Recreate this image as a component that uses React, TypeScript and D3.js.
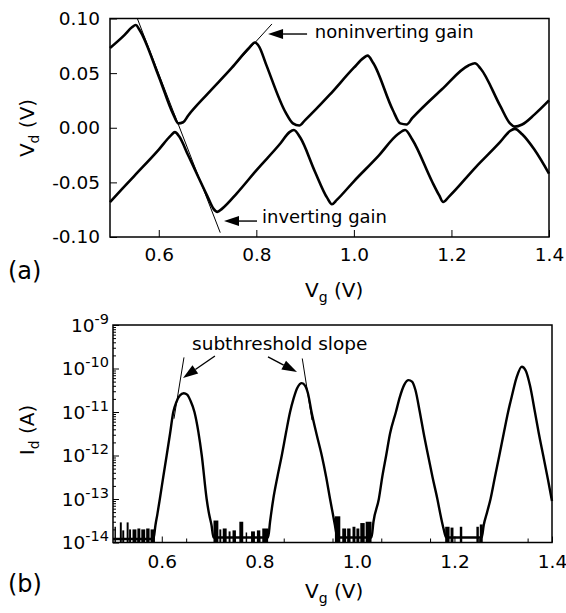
import React, { useEffect, useRef } from "react";
import * as d3 from "d3";

const FONT = "DejaVu Sans, Liberation Sans, Arial, sans-serif";

// shared gate voltage axis
const vgDomain = [0.5, 1.4];
const vgTicks = [0.6, 0.8, 1.0, 1.2, 1.4];
const vgTickLabels = ["0.6", "0.8", "1.0", "1.2", "1.4"];
const vgMinorTicks = [0.55, 0.65, 0.75, 0.85, 0.95, 1.05, 1.15, 1.25, 1.35];

// panel (a): drain voltage
const vdTicks = [-0.1, -0.05, 0, 0.05, 0.1];
const vdTickLabels = ["-0.10", "-0.05", "0.00", "0.05", "0.10"];

const vdUpper: [number, number][] = [
  [0.5, 0.073], [0.53, 0.085], [0.545, 0.092], [0.553, 0.094], [0.56, 0.09],
  [0.6, 0.047], [0.63, 0.012], [0.64, 0.004], [0.65, 0.005], [0.66, 0.011],
  [0.7, 0.031], [0.75, 0.055], [0.785, 0.073], [0.797, 0.078], [0.806, 0.074],
  [0.82, 0.058], [0.86, 0.014], [0.875, 0.004], [0.888, 0.002], [0.9, 0.007],
  [0.95, 0.03], [1.0, 0.055], [1.02, 0.064], [1.028, 0.066], [1.04, 0.059],
  [1.08, 0.016], [1.095, 0.004], [1.108, 0.003], [1.12, 0.009], [1.18, 0.035],
  [1.235, 0.057], [1.248, 0.059], [1.26, 0.054], [1.3, 0.02], [1.32, 0.004],
  [1.33, 0.001], [1.345, 0.003], [1.37, 0.012], [1.4, 0.025],
];

const vdLower: [number, number][] = [
  [0.5, -0.068], [0.55, -0.044], [0.6, -0.02], [0.625, -0.007], [0.633, -0.004],
  [0.642, -0.008], [0.66, -0.025], [0.7, -0.063], [0.712, -0.074], [0.72, -0.077],
  [0.73, -0.074], [0.76, -0.06], [0.8, -0.039], [0.85, -0.014], [0.868, -0.004],
  [0.877, -0.002], [0.89, -0.009], [0.92, -0.04], [0.945, -0.064], [0.955, -0.07],
  [0.965, -0.066], [1.0, -0.049], [1.05, -0.026], [1.09, -0.006], [1.105, -0.002],
  [1.12, -0.011], [1.16, -0.049], [1.175, -0.062], [1.183, -0.068], [1.195, -0.063],
  [1.25, -0.036], [1.3, -0.013], [1.32, -0.003], [1.33, -0.001], [1.345, -0.006],
  [1.37, -0.02], [1.4, -0.042],
];

const invertingTangent: [number, number][] = [[0.556, 0.1], [0.726, -0.096]];
const noninvertingTangent: [number, number][] = [[0.72, 0.04], [0.832, 0.095]];
const noninvArrow: [number, number][] = [[0.904, 0.0858], [0.824, 0.0858]];
const invArrow: [number, number][] = [[0.8014, -0.0854], [0.7337, -0.0854]];
const noninvLabelAt: [number, number] = [0.92, 0.082];
const invLabelAt: [number, number] = [0.8116, -0.0872];

// panel (b): drain current
const idExponents = [-14, -13, -12, -11, -10, -9];

const idTrace: [number, number][] = [
  [0.5, 1.2e-14], [0.583, 1.2e-14],
  [0.587, 2.5e-14], [0.591, 4.5e-14], [0.596, 1e-13], [0.603, 3.2e-13], [0.61, 1e-12],
  [0.617, 3.2e-12], [0.6236, 1e-11], [0.63, 1.7e-11], [0.637, 2.4e-11], [0.645, 2.7e-11],
  [0.652, 2.5e-11], [0.659, 1.8e-11], [0.667, 1e-11], [0.675, 3.5e-12], [0.682, 1e-12],
  [0.692, 1e-13], [0.697, 4.5e-14], [0.702, 2.5e-14], [0.706, 1.3e-14],
  [0.818, 1.3e-14], [0.822, 3e-14], [0.8286, 1e-13], [0.837, 3.2e-13], [0.846, 1e-12],
  [0.855, 3.5e-12], [0.863, 1e-11], [0.87, 2e-11], [0.878, 3.6e-11], [0.887, 4.6e-11],
  [0.894, 4e-11], [0.9, 2.6e-11], [0.907, 1e-11], [0.917, 3.2e-12], [0.928, 1e-12],
  [0.937, 3.2e-13], [0.945, 1e-13], [0.95, 5e-14], [0.955, 2.5e-14], [0.96, 1.3e-14],
  [1.03, 1.3e-14], [1.034, 3e-14], [1.045, 1e-13], [1.052, 3.2e-13], [1.06, 1e-12],
  [1.068, 3.2e-12], [1.08, 1e-11], [1.088, 2.2e-11], [1.097, 4.2e-11], [1.106, 5.4e-11],
  [1.113, 5e-11], [1.12, 3.2e-11], [1.129, 1e-11], [1.137, 3.2e-12], [1.146, 1e-12],
  [1.155, 3.2e-13], [1.165, 1e-13], [1.172, 4e-14], [1.178, 2e-14], [1.183, 1.3e-14],
  [1.256, 1.3e-14], [1.26, 2.5e-14], [1.267, 5e-14], [1.274, 1e-13], [1.283, 3.2e-13],
  [1.292, 1e-12], [1.301, 3.2e-12], [1.31, 1e-11], [1.318, 2.4e-11], [1.327, 6e-11],
  [1.338, 1.1e-10], [1.346, 9e-11], [1.355, 4e-11], [1.365, 1e-11], [1.373, 3.2e-12],
  [1.382, 1e-12], [1.392, 2.7e-13], [1.4, 9e-14],
];

// noise bursts at the floor: [start Vg, end Vg, top current]
const noiseBursts: [number, number, number][] = [
  [0.503, 0.506, 2.3e-14], [0.514, 0.518, 2.9e-14], [0.519, 0.523, 1.9e-14],
  [0.528, 0.532, 2.9e-14], [0.533, 0.537, 2e-14], [0.54, 0.548, 2e-14],
  [0.55, 0.556, 2.1e-14], [0.558, 0.566, 2e-14], [0.568, 0.575, 2.1e-14],
  [0.577, 0.586, 2e-14],
  [0.706, 0.716, 3.2e-14], [0.718, 0.722, 2e-14], [0.725, 0.733, 2.1e-14],
  [0.737, 0.741, 1.8e-14], [0.745, 0.752, 1.9e-14], [0.759, 0.767, 3e-14],
  [0.772, 0.775, 1.7e-14], [0.783, 0.791, 1.8e-14], [0.795, 0.802, 1.9e-14],
  [0.806, 0.818, 2.1e-14],
  [0.955, 0.966, 4e-14], [0.97, 0.978, 2.1e-14], [0.98, 0.987, 2.1e-14],
  [0.991, 0.997, 2.3e-14], [0.999, 1.005, 2.1e-14], [1.007, 1.016, 2.8e-14],
  [1.018, 1.03, 3e-14],
  [1.181, 1.19, 2.3e-14], [1.192, 1.198, 2.2e-14], [1.211, 1.216, 2.3e-14],
  [1.245, 1.25, 2.3e-14], [1.252, 1.258, 2.6e-14],
];

const slopeTangents: [number, number][][] = [
  [[0.6455, 1.8e-10], [0.625, 7e-12]],
  [[0.888, 1.7e-10], [0.908, 6.5e-12]],
];
const slopeArrows: [number, number][][] = [
  [[0.709, 1.94e-10], [0.6435, 6.05e-11]],
  [[0.8178, 1.84e-10], [0.8772, 8.3e-11]],
];
const slopeLabelAt: [number, number] = [0.662, 2.66e-10];

const drawArrow = (g, x1, y1, x2, y2) => {
  const head = 15;
  const halfW = 5;
  const ang = Math.atan2(y2 - y1, x2 - x1);
  const bx = x2 - head * Math.cos(ang);
  const by = y2 - head * Math.sin(ang);
  g.append("line")
    .attr("x1", x1).attr("y1", y1).attr("x2", bx).attr("y2", by)
    .attr("stroke", "#000").attr("stroke-width", 1.4);
  const px = -Math.sin(ang) * halfW;
  const py = Math.cos(ang) * halfW;
  g.append("path")
    .attr("d", `M${x2},${y2}L${bx + px},${by + py}L${bx - px},${by - py}Z`)
    .attr("fill", "#000");
};

const styleAxis = (g, size) => {
  g.select(".domain").remove();
  g.selectAll("line").attr("stroke", "#000").attr("stroke-width", 1);
  g.selectAll("text")
    .attr("font-family", FONT)
    .attr("font-size", size)
    .attr("fill", "#000");
};

const subLabel = (g, x, y, main, sub, rest, rotate, size) => {
  const t = g.append("text")
    .attr("font-family", FONT)
    .attr("font-size", size)
    .attr("fill", "#000");
  if (rotate) {
    t.attr("transform", `translate(${x},${y}) rotate(-90)`).attr("text-anchor", "middle");
  } else {
    t.attr("x", x).attr("y", y);
  }
  t.append("tspan").text(main);
  t.append("tspan").attr("font-size", size * 0.7).attr("dy", 5).text(sub);
  t.append("tspan").attr("dy", -5).text(rest);
};

export default function App() {
  const ref = useRef<SVGSVGElement>(null);

  useEffect(() => {
    const svg = d3.select(ref.current);
    svg.selectAll("*").remove();

    // ---------- panel (a) ----------
    const xA = d3.scaleLinear().domain(vgDomain).range([110, 549]);
    const yA = d3.scaleLinear().domain([-0.1, 0.1]).range([237, 18.5]);

    svg.append("g")
      .attr("transform", `translate(0,${yA(-0.1)})`)
      .call(d3.axisBottom(xA).tickValues(vgTicks)
        .tickFormat((d, i) => vgTickLabels[i]).tickSize(-7).tickPadding(11))
      .call(g => styleAxis(g, 18.5));

    svg.append("g")
      .attr("transform", `translate(${xA(0.5)},0)`)
      .call(d3.axisLeft(yA).tickValues(vdTicks)
        .tickFormat((d, i) => vdTickLabels[i]).tickSize(-7).tickPadding(10))
      .call(g => styleAxis(g, 18.5));

    svg.append("rect")
      .attr("x", xA(0.5)).attr("y", yA(0.1))
      .attr("width", xA(1.4) - xA(0.5)).attr("height", yA(-0.1) - yA(0.1))
      .attr("fill", "none").attr("stroke", "#000").attr("stroke-width", 1.5);

    const lineA = d3.line<[number, number]>()
      .x(d => xA(d[0])).y(d => yA(d[1]))
      .curve(d3.curveMonotoneX);

    [vdUpper, vdLower].forEach(series => {
      svg.append("path")
        .datum(series)
        .attr("d", lineA)
        .attr("fill", "none")
        .attr("stroke", "#000")
        .attr("stroke-width", 2.6)
        .attr("stroke-linejoin", "round");
    });

    [invertingTangent, noninvertingTangent].forEach(seg => {
      svg.append("line")
        .attr("x1", xA(seg[0][0])).attr("y1", yA(seg[0][1]))
        .attr("x2", xA(seg[1][0])).attr("y2", yA(seg[1][1]))
        .attr("stroke", "#000").attr("stroke-width", 1);
    });

    [noninvArrow, invArrow].forEach(a => {
      drawArrow(svg, xA(a[0][0]), yA(a[0][1]), xA(a[1][0]), yA(a[1][1]));
    });

    svg.append("text")
      .attr("x", xA(noninvLabelAt[0])).attr("y", yA(noninvLabelAt[1]))
      .attr("font-family", FONT).attr("font-size", 18).text("noninverting gain");
    svg.append("text")
      .attr("x", xA(invLabelAt[0])).attr("y", yA(invLabelAt[1]))
      .attr("font-family", FONT).attr("font-size", 18).text("inverting gain");

    subLabel(svg, 305, 297, "V", "g", " (V)", false, 20);
    subLabel(svg, 34, 128, "V", "d", " (V)", true, 20);

    svg.append("text")
      .attr("x", 8).attr("y", 279)
      .attr("font-family", FONT).attr("font-size", 24).text("(a)");

    // ---------- panel (b) ----------
    const xB = d3.scaleLinear().domain(vgDomain).range([113, 552]);
    const yB = d3.scaleLog().domain([1e-14, 1e-9]).range([542.5, 325]);

    svg.append("g")
      .attr("transform", `translate(0,${yB(1e-14)})`)
      .call(d3.axisBottom(xB).tickValues(vgTicks)
        .tickFormat((d, i) => vgTickLabels[i]).tickSize(-6).tickPadding(12))
      .call(g => styleAxis(g, 18.5));

    svg.append("g")
      .attr("transform", `translate(0,${yB(1e-14)})`)
      .call(d3.axisBottom(xB).tickValues(vgMinorTicks)
        .tickFormat(() => "").tickSize(-4))
      .call(g => styleAxis(g, 10));

    const minorY: number[] = [];
    idExponents.slice(0, -1).forEach(e => {
      for (let m = 2; m <= 9; m++) minorY.push(m * Math.pow(10, e));
    });

    svg.append("g")
      .attr("transform", `translate(${xB(0.5)},0)`)
      .call(d3.axisLeft(yB).tickValues(minorY).tickFormat(() => "").tickSize(-3))
      .call(g => styleAxis(g, 10));

    svg.append("g")
      .attr("transform", `translate(${xB(0.5)},0)`)
      .call(d3.axisLeft(yB).tickValues(idExponents.map(e => Math.pow(10, e)))
        .tickFormat(() => "").tickSize(-6))
      .call(g => styleAxis(g, 10));

    idExponents.forEach(e => {
      const t = svg.append("text")
        .attr("x", xB(0.5) - 4)
        .attr("y", yB(Math.pow(10, e)) + 6.5)
        .attr("text-anchor", "end")
        .attr("font-family", FONT)
        .attr("font-size", 18.5)
        .attr("fill", "#000");
      t.append("tspan").text("10");
      t.append("tspan").attr("font-size", 14.5).attr("dy", -8).text(String(e));
    });

    svg.append("rect")
      .attr("x", xB(0.5)).attr("y", yB(1e-9))
      .attr("width", xB(1.4) - xB(0.5)).attr("height", yB(1e-14) - yB(1e-9))
      .attr("fill", "none").attr("stroke", "#000").attr("stroke-width", 1.5);

    svg.append("g")
      .selectAll("rect")
      .data(noiseBursts)
      .enter()
      .append("rect")
      .attr("x", d => xB(d[0]))
      .attr("width", d => xB(d[1]) - xB(d[0]))
      .attr("y", d => yB(d[2]))
      .attr("height", d => yB(1e-14) - yB(d[2]))
      .attr("fill", "#000");

    const lineB = d3.line<[number, number]>()
      .x(d => xB(d[0])).y(d => yB(d[1]))
      .curve(d3.curveMonotoneX);

    svg.append("path")
      .datum(idTrace)
      .attr("d", lineB)
      .attr("fill", "none")
      .attr("stroke", "#000")
      .attr("stroke-width", 2.4)
      .attr("stroke-linejoin", "round");

    slopeTangents.forEach(seg => {
      svg.append("line")
        .attr("x1", xB(seg[0][0])).attr("y1", yB(seg[0][1]))
        .attr("x2", xB(seg[1][0])).attr("y2", yB(seg[1][1]))
        .attr("stroke", "#000").attr("stroke-width", 1);
    });

    slopeArrows.forEach(a => {
      drawArrow(svg, xB(a[0][0]), yB(a[0][1]), xB(a[1][0]), yB(a[1][1]));
    });

    svg.append("text")
      .attr("x", xB(slopeLabelAt[0])).attr("y", yB(slopeLabelAt[1]))
      .attr("font-family", FONT).attr("font-size", 18.5).text("subthreshold slope");

    subLabel(svg, 305, 598, "V", "g", " (V)", false, 20);
    subLabel(svg, 34, 430, "I", "d", " (A)", true, 20);

    svg.append("text")
      .attr("x", 8).attr("y", 592)
      .attr("font-family", FONT).attr("font-size", 24).text("(b)");
  }, []);

  return (
    <svg
      ref={ref}
      width={566}
      height={613}
      style={{ position: "absolute", left: 0, top: 0, background: "#fff" }}
    />
  );
}
